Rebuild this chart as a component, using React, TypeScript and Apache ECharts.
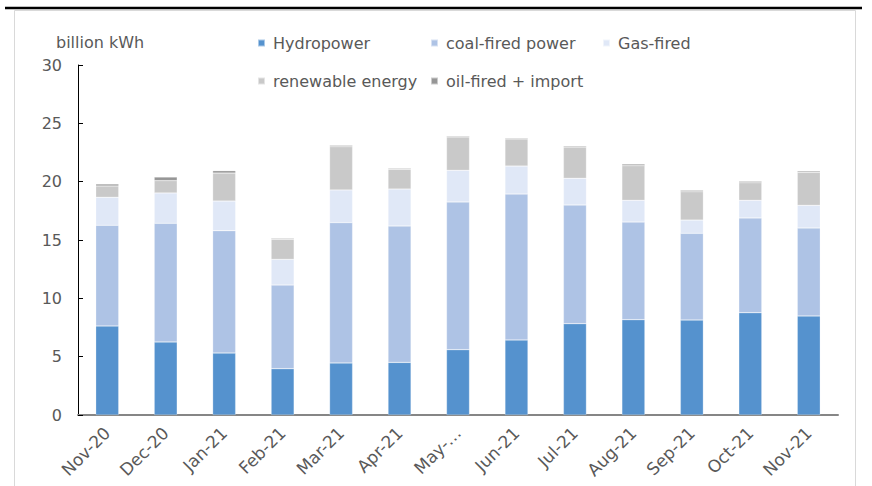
import React, { useEffect, useRef } from "react";
import * as echarts from "echarts";

const categories = ["Nov-20", "Dec-20", "Jan-21", "Feb-21", "Mar-21", "Apr-21", "May-…", "Jun-21", "Jul-21", "Aug-21", "Sep-21", "Oct-21", "Nov-21"];
const hydropower = [7.63, 6.26, 5.31, 3.97, 4.46, 4.51, 5.6, 6.43, 7.83, 8.17, 8.14, 8.77, 8.49];
const coalFired = [8.63, 10.17, 10.49, 7.17, 12.03, 11.69, 12.66, 12.51, 10.17, 8.37, 7.43, 8.12, 7.54];
const gasFired = [2.4, 2.6, 2.54, 2.2, 2.8, 3.17, 2.71, 2.4, 2.29, 1.86, 1.14, 1.51, 1.94];
const renewable = [0.97, 1.06, 2.4, 1.72, 3.71, 1.69, 2.86, 2.32, 2.68, 2.97, 2.43, 1.51, 2.83];
const oilImport = [0.17, 0.31, 0.2, 0.08, 0.11, 0.08, 0.08, 0.08, 0.09, 0.14, 0.12, 0.12, 0.11];
const yTicks = [0, 5, 10, 15, 20, 25, 30];

const seriesDefs = [
  { name: "Hydropower", data: hydropower, color: "#5592CE" },
  { name: "coal-fired power", data: coalFired, color: "#AEC3E5" },
  { name: "Gas-fired", data: gasFired, color: "#E0E8F7" },
  { name: "renewable energy", data: renewable, color: "#C9C9C9" },
  { name: "oil-fired + import", data: oilImport, color: "#969696" },
];

const FONT = "DejaVu Sans";
const TXT = "#595959";

export default function App() {
  const ref = useRef<HTMLDivElement>(null);
  useEffect(() => {
    if (!ref.current) return;
    const chart = echarts.init(ref.current, null, { renderer: "svg" });
    const legendPos = [
      { left: 257, top: 35 },
      { left: 430, top: 35 },
      { left: 602, top: 35 },
      { left: 257, top: 73 },
      { left: 430, top: 73 },
    ];
    chart.setOption({
      animation: false,
      backgroundColor: "#ffffff",
      textStyle: { fontFamily: FONT },
      graphic: [
        {
          type: "rect",
          shape: { x: 14.5, y: 10.5, width: 841, height: 490 },
          style: { fill: "none", stroke: "#d9d9d9", lineWidth: 1 },
          silent: true,
        },
        {
          type: "line",
          shape: { x1: 5, y1: 8, x2: 862, y2: 8 },
          style: { stroke: "#000000", lineWidth: 2.5 },
          silent: true,
        },
        {
          type: "text",
          left: 56,
          top: 34,
          style: { text: "billion kWh", fill: TXT, font: `16px "${FONT}"` },
        },
      ],
      legend: seriesDefs.map((s, i) => ({
        data: [s.name],
        left: legendPos[i].left,
        top: legendPos[i].top,
        padding: 0,
        icon: "rect",
        itemWidth: 7,
        itemHeight: 7,
        selectedMode: false,
        textStyle: { color: TXT, fontSize: 16, fontFamily: FONT, padding: [0, 0, 0, 3] },
      })),
      grid: { left: 78, right: 34, top: 65, bottom: 71 },
      xAxis: {
        type: "category",
        data: categories,
        axisLine: { lineStyle: { color: "#868686", width: 2 } },
        axisTick: { inside: true, length: 5, lineStyle: { color: "#000000", width: 1 } },
        axisLabel: { rotate: 45, color: TXT, fontSize: 17, fontFamily: FONT, margin: 15, interval: 0 },
      },
      yAxis: {
        type: "value",
        min: 0,
        max: 30,
        interval: 5,
        splitLine: { show: false },
        axisLine: { show: true, lineStyle: { color: "#000000", width: 1 } },
        axisTick: { show: true, inside: true, length: 5, lineStyle: { color: "#000000" } },
        axisLabel: {
          color: TXT,
          fontSize: 16,
          fontFamily: FONT,
          margin: 16,
          formatter: (v: number) => (yTicks.includes(v) ? String(v) : ""),
        },
      },
      series: seriesDefs.map((s) => ({
        name: s.name,
        type: "bar",
        stack: "total",
        data: s.data,
        barWidth: 23,
        itemStyle: { color: s.color, borderColor: "rgba(255,255,255,0.5)", borderWidth: 0.5 },
      })),
    });
    return () => chart.dispose();
  }, []);
  return <div ref={ref} style={{ position: "fixed", left: 0, top: 0, width: 872, height: 486 }} />;
}
